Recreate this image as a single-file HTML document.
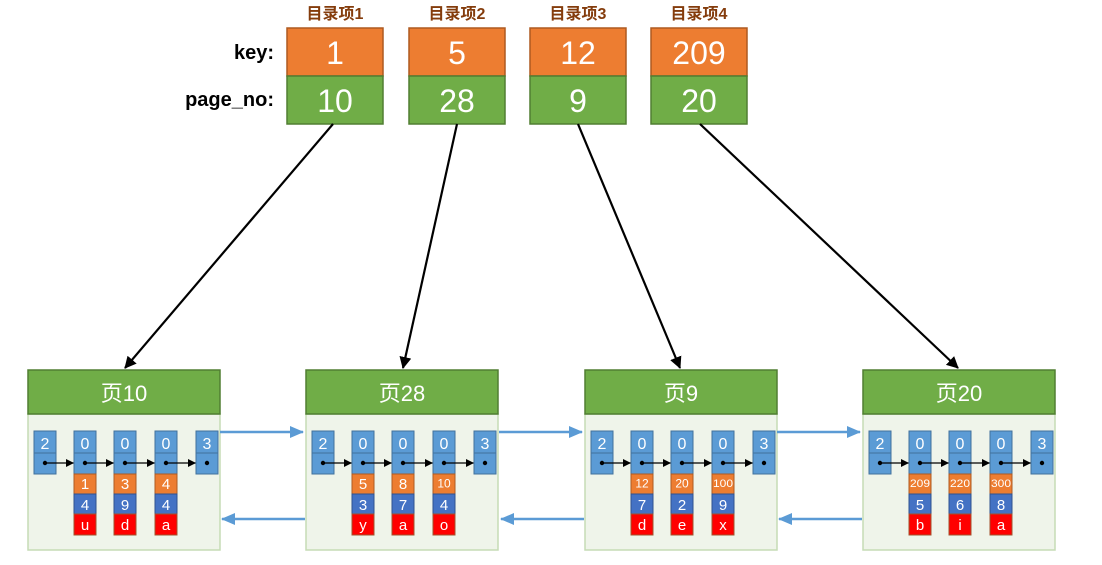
<!DOCTYPE html>
<html><head><meta charset="utf-8"><style>
body{margin:0;background:#fff;width:1102px;height:560px;overflow:hidden}
svg text{font-family:"Liberation Sans","Noto Sans CJK SC",sans-serif}
</style></head><body>
<svg id="s" width="1102" height="560" xmlns="http://www.w3.org/2000/svg">
<defs>
<marker id="ab" markerWidth="12" markerHeight="12" refX="11" refY="6" orient="auto" markerUnits="userSpaceOnUse"><path d="M0,0 L12,6 L0,12 z" fill="#000"/></marker>
<marker id="as" markerWidth="8" markerHeight="8" refX="8" refY="4" orient="auto" markerUnits="userSpaceOnUse"><path d="M0,0 L8,4 L0,8 z" fill="#000"/></marker>
<marker id="abl" markerWidth="14" markerHeight="12" refX="13" refY="6" orient="auto" markerUnits="userSpaceOnUse"><path d="M0,0 L14,6 L0,12 z" fill="#5b9bd5"/></marker>
</defs>
<g font-weight="bold" font-size="20" text-anchor="end" fill="#000">
<text x="274" y="59">key:</text>
<text x="274" y="106">page_no:</text>
</g>
</svg>
<script>
const s=document.getElementById('s');let h='';
const tops=[[287,'1','10','目录项1'],[409,'5','28','目录项2'],[530,'12','9','目录项3'],[651,'209','20','目录项4']];
for(const [x,k,p,l] of tops){
h+=`<text x="${x+48}" y="19" text-anchor="middle" font-size="16" font-weight="bold" fill="#843c0c">${l}</text>`;
h+=`<rect x="${x}" y="28" width="96" height="48" fill="#ed7d31" stroke="#ae5a21" stroke-width="1.5"/>`;
h+=`<rect x="${x}" y="76" width="96" height="48" fill="#70ad47" stroke="#507e32" stroke-width="1.5"/>`;
h+=`<text x="${x+48}" y="64" text-anchor="middle" font-size="32" fill="#fff">${k}</text>`;
h+=`<text x="${x+48}" y="112" text-anchor="middle" font-size="32" fill="#fff">${p}</text>`;
}
const lines=[[333,124,125,368],[457,124,403,368],[578,124,680,368],[700,124,958,368]];
for(const [a,b,c,d] of lines)h+=`<line x1="${a}" y1="${b}" x2="${c}" y2="${d}" stroke="#000" stroke-width="2.2" marker-end="url(#ab)"/>`;
const pages=[[28,'页10',[['1','4','u'],['3','9','d'],['4','4','a']]],[306,'页28',[['5','3','y'],['8','7','a'],['10','4','o']]],[585,'页9',[['12','7','d'],['20','2','e'],['100','9','x']]],[863,'页20',[['209','5','b'],['220','6','i'],['300','8','a']]]];
for(const [x,t,recs] of pages){
h+=`<rect x="${x}" y="414" width="192" height="136" fill="#eff4ea" stroke="#c5dcb5" stroke-width="1.5"/>`;
h+=`<rect x="${x}" y="370" width="192" height="44" fill="#70ad47" stroke="#507e32" stroke-width="1.5"/>`;
h+=`<text x="${x+96}" y="401" text-anchor="middle" font-size="22" fill="#fff">${t}</text>`;
const cx=[6,46,86,127,168];const tops2=['2','0','0','0','3'];
for(let i=0;i<5;i++){const X=x+cx[i];
h+=`<rect x="${X}" y="431" width="22" height="22" fill="#5b9bd5" stroke="#41719c"/>`;
h+=`<rect x="${X}" y="453" width="22" height="21" fill="#5b9bd5" stroke="#41719c"/>`;
h+=`<text x="${X+11}" y="449" text-anchor="middle" font-size="16" fill="#fff">${tops2[i]}</text>`;
h+=`<circle cx="${X+11}" cy="463" r="2.2" fill="#000"/>`;
if(i<4)h+=`<line x1="${X+11}" y1="463" x2="${x+cx[i+1]}" y2="463" stroke="#000" stroke-width="1.2" marker-end="url(#as)"/>`;
if(i>=1&&i<=3){const r=recs[i-1];const fs=r[0].length>2?11:(r[0].length>1?12:15);
h+=`<rect x="${X}" y="474" width="22" height="20" fill="#ed7d31" stroke="#ae5a21"/>`;
h+=`<rect x="${X}" y="494" width="22" height="20" fill="#4472c4" stroke="#2f528f"/>`;
h+=`<rect x="${X}" y="514" width="22" height="21" fill="#ff0000" stroke="#a0522d"/>`;
h+=`<text x="${X+11}" y="${489-(15-fs)/2}" text-anchor="middle" font-size="${fs}" fill="#fff" ${r[0].length>2?'textLength="20" lengthAdjust="spacingAndGlyphs"':''}>${r[0]}</text>`;
h+=`<text x="${X+11}" y="510" text-anchor="middle" font-size="15" fill="#fff">${r[1]}</text>`;
h+=`<text x="${X+11}" y="530" text-anchor="middle" font-size="15" fill="#fff">${r[2]}</text>`;}
}}
for(const x of [220,499,777]){
h+=`<line x1="${x}" y1="432" x2="${x+83}" y2="432" stroke="#5b9bd5" stroke-width="2.5" marker-end="url(#abl)"/>`;
h+=`<line x1="${x+85}" y1="519" x2="${x+2}" y2="519" stroke="#5b9bd5" stroke-width="2.5" marker-end="url(#abl)"/>`;
}
s.insertAdjacentHTML('beforeend',h);
</script>
</body></html>
